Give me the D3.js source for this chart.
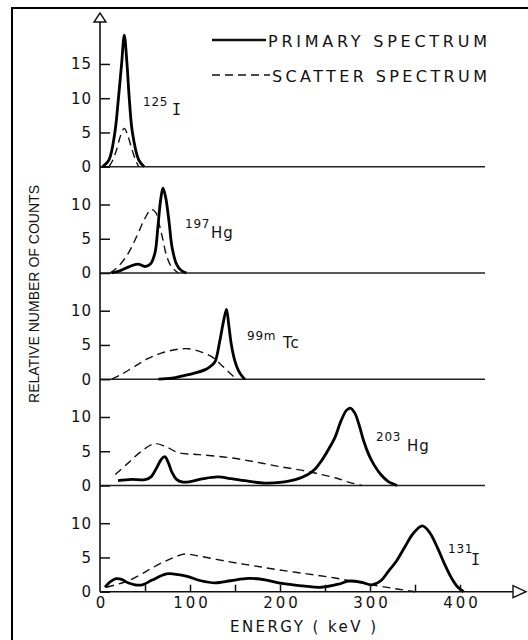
<!DOCTYPE html>
<html>
<head>
<meta charset="utf-8">
<script src="https://cdn.jsdelivr.net/npm/d3@7"></script>
<style>
  html, body { margin: 0; padding: 0; background: #fff; }
  svg { display: block; }
  text { font-family: "DejaVu Sans", sans-serif; fill: #111; }
</style>
</head>
<body>
<script>
const width = 528;
const height = 640;

// energy axis (keV)
const energyLabels = [0, 100, 200, 300, 400];
const energyTicks = [50, 100, 150, 200, 250, 300, 350, 400];
// relative counts ticks per panel
const countTicksTop = [0, 5, 10, 15];
const countTicks = [0, 5, 10];

const isotopeSup = ['125', '197', '99m', '203', '131'];
const isotopeName = ['I', 'Hg', 'Tc', 'Hg', 'I'];

// [energy keV, relative counts]
const i125Primary = [[3, 0], [10, 1], [16.5, 5], [20.5, 10], [24, 15], [27, 19.2], [30, 15], [32.5, 10], [36, 5], [43, 1], [49, 0]];
const i125Scatter = [[10, 0], [14, 0.9], [18.5, 2.5], [23, 4.6], [27, 5.6], [31, 4.5], [35.5, 2.5], [40, 0.8], [43, 0]];

const hg197Primary = [[13, 0], [22, 0.3], [32, 0.9], [42, 1.3], [50, 0.95], [56, 1.3], [61, 2.9], [64.5, 7], [67.5, 10.8], [70, 12.4], [73, 11], [76.7, 7.5], [80, 3.8], [85, 1.3], [90, 0.4], [96, 0]];
const hg197Scatter = [[11, 0], [20, 0.9], [31.5, 2.9], [42, 5.7], [50, 8], [57, 9.3], [62, 8.8], [66, 7], [70, 4.8], [74, 2.5], [79, 1], [87, 0]];

const tc99mPrimary = [[65, 0], [80, 0.15], [92, 0.5], [105, 0.9], [117, 1.4], [124, 2], [128, 2.6], [133, 5.5], [137, 8.3], [140.5, 10.2], [143, 8], [146, 5], [150, 2.6], [154, 1.2], [158, 0.4], [161, 0]];
const tc99mScatter = [[13, 0], [25, 0.8], [39, 1.9], [53, 3], [68, 3.8], [83, 4.3], [98, 4.45], [112, 4], [124, 3.3], [133, 2.3], [142.6, 1.1], [152, 0]];

const hg203Primary = [[20, 0.7], [35, 0.9], [50, 0.85], [57, 1.3], [63, 2.6], [68, 3.8], [72, 4.2], [76, 3.3], [80, 1.9], [85, 0.9], [92, 0.5], [100, 0.55], [115, 1], [131, 1.25], [146, 1], [161, 0.7], [183, 0.35], [200, 0.45], [217, 0.85], [231, 1.6], [239, 2.4], [246, 3.6], [254, 5.3], [261, 7], [268, 9.5], [274, 11], [278, 11.3], [283, 10.6], [288, 8.8], [293, 6.5], [299, 4.4], [305, 2.9], [312, 1.6], [320, 0.6], [330, 0]];
const hg203Scatter = [[17, 1.6], [31.5, 3.3], [46, 5], [61, 6.1], [74, 5.6], [87, 4.8], [110, 4.5], [142, 4.1], [170, 3.5], [198, 2.8], [225, 2.2], [246, 1.6], [262, 1.1], [276, 0.5], [291, 0]];

const i131Primary = [[5.6, 0.65], [12, 1.5], [18, 1.9], [24, 1.8], [31, 1.3], [39, 1], [47, 1], [58, 1.7], [74, 2.6], [87, 2.5], [98, 2.2], [112, 1.6], [128, 1.3], [145, 1.6], [165, 1.95], [185, 1.7], [202, 1.2], [225, 0.85], [246, 0.65], [265, 1.1], [276, 1.55], [290, 1.4], [302, 1], [312, 1.6], [320, 2.9], [330, 4.6], [339, 6.6], [348, 8.5], [358, 9.6], [366, 8.7], [375, 6.4], [383, 4], [391, 1.9], [398, 0.6], [404, 0]];
const i131Scatter = [[7, 0.65], [20, 1.1], [31.5, 1.6], [45, 2.5], [57, 3.4], [70, 4.3], [82, 5], [94, 5.5], [110, 5.2], [142, 4.4], [170, 3.8], [198, 3.2], [230, 2.6], [261, 2], [285, 1.4], [309, 0.85], [330, 0.4], [350, 0]];

const panels = [
  { primary: i125Primary, scatter: i125Scatter, ticks: countTicksTop },
  { primary: hg197Primary, scatter: hg197Scatter, ticks: countTicks },
  { primary: tc99mPrimary, scatter: tc99mScatter, ticks: countTicks },
  { primary: hg203Primary, scatter: hg203Scatter, ticks: countTicks },
  { primary: i131Primary, scatter: i131Scatter, ticks: countTicks },
];

// layout
const axisX = 100;
const topY = 22;
const bases = [166.7, 273, 379.2, 485.5, 591.7];
const unit = 6.85;
const labelPos = [
  { sx: 143, sy: -61, mx: 172, my: -52 },
  { sx: 185, sy: -45, mx: 211, my: -35 },
  { sx: 247, sy: -39, mx: 283, my: -31 },
  { sx: 376, sy: -45, mx: 407, my: -35 },
  { sx: 448, sy: -39, mx: 471, my: -27 },
];

const x = d3.scaleLinear()
  .domain([0, 400])
  .range([axisX, 460]);

const svg = d3.select('body')
  .append('svg')
    .attr('width', width)
    .attr('height', height)
    .attr('viewBox', [0, 0, width, height].join(' '));

svg.append('rect')
  .attr('width', width)
  .attr('height', height)
  .attr('fill', '#fff');

// frame (top and left edges visible)
svg.append('path')
  .attr('d', `M12,${height} L12,8 L${width},8`)
  .attr('fill', 'none')
  .attr('stroke', '#000')
  .attr('stroke-width', 2);

panels.forEach((p, i) => {
  const base = bases[i];
  const y = d3.scaleLinear()
    .domain([0, 10])
    .range([base, base - unit * 10]);

  const g = svg.append('g');

  // baseline
  if (i < panels.length - 1) {
    g.append('line')
      .attr('x1', axisX)
      .attr('x2', 485)
      .attr('y1', base)
      .attr('y2', base)
      .attr('stroke', '#222')
      .attr('stroke-width', 1.5);
  }

  const yAxis = d3.axisLeft(y)
    .tickValues(p.ticks)
    .tickSizeInner(-10)
    .tickSizeOuter(0)
    .tickPadding(8);

  const ya = g.append('g')
    .attr('transform', `translate(${axisX},0)`)
    .call(yAxis);
  ya.select('.domain').remove();
  ya.selectAll('line').attr('stroke', '#111').attr('stroke-width', 1.5);
  ya.selectAll('text')
    .attr('font-size', 15)
    .attr('letter-spacing', 1)
    .attr('fill', '#111');

  const line = d3.line()
    .x((d) => x(d[0]))
    .y((d) => y(d[1]))
    .curve(d3.curveCatmullRom.alpha(0.5));

  g.append('path')
    .datum(p.scatter)
    .attr('d', line)
    .attr('fill', 'none')
    .attr('stroke', '#111')
    .attr('stroke-width', 1.4)
    .attr('stroke-dasharray', '8,5');

  g.append('path')
    .datum(p.primary)
    .attr('d', line)
    .attr('fill', 'none')
    .attr('stroke', '#000')
    .attr('stroke-width', 2.8)
    .attr('stroke-linejoin', 'round');

  const lp = labelPos[i];
  g.append('text')
    .attr('x', lp.sx)
    .attr('y', base + lp.sy)
    .attr('font-size', 12)
    .attr('letter-spacing', 0.8)
    .text(isotopeSup[i]);

  g.append('text')
    .attr('x', lp.mx)
    .attr('y', base + lp.my)
    .attr('font-size', 15)
    .attr('letter-spacing', 1)
    .style('font-family', isotopeName[i] === 'I' ? '"DejaVu Sans Mono", monospace' : null)
    .text(isotopeName[i]);
});

// y axis line and arrow
svg.append('line')
  .attr('x1', axisX)
  .attr('x2', axisX)
  .attr('y1', topY)
  .attr('y2', bases[4])
  .attr('stroke', '#111')
  .attr('stroke-width', 1.6);

svg.append('path')
  .attr('d', `M${axisX},13 L${axisX - 6},${topY} L${axisX + 6},${topY} Z`)
  .attr('fill', '#fff')
  .attr('stroke', '#111')
  .attr('stroke-width', 1.4);

// x axis line and arrow
svg.append('line')
  .attr('x1', axisX)
  .attr('x2', 513)
  .attr('y1', bases[4])
  .attr('y2', bases[4])
  .attr('stroke', '#111')
  .attr('stroke-width', 1.6);

svg.append('path')
  .attr('d', `M513,${bases[4] - 6} L526,${bases[4]} L513,${bases[4] + 6} Z`)
  .attr('fill', '#fff')
  .attr('stroke', '#111')
  .attr('stroke-width', 1.4);

const xTicks = d3.axisBottom(x)
  .tickValues(energyTicks)
  .tickSizeInner(-7)
  .tickSizeOuter(0)
  .tickFormat('');

const xt = svg.append('g')
  .attr('transform', `translate(0,${bases[4]})`)
  .call(xTicks);
xt.select('.domain').remove();
xt.selectAll('line').attr('stroke', '#111').attr('stroke-width', 1.5);

const xLabels = d3.axisBottom(x)
  .tickValues(energyLabels)
  .tickSize(0)
  .tickPadding(6);

const xl = svg.append('g')
  .attr('transform', `translate(0,${bases[4]})`)
  .call(xLabels);
xl.select('.domain').remove();
xl.selectAll('text')
  .attr('font-size', 15)
  .attr('letter-spacing', 3)
  .attr('dx', 1.5)
  .attr('fill', '#111');

// axis titles
svg.append('text')
  .attr('x', 230)
  .attr('y', 632)
  .attr('font-size', 15)
  .attr('textLength', 146)
  .attr('lengthAdjust', 'spacing')
  .text('ENERGY ( keV )');

svg.append('text')
  .attr('transform', 'translate(39,403) rotate(-90)')
  .attr('font-size', 14)
  .style('font-family', '"Liberation Sans Narrow", "Liberation Sans", sans-serif')
  .attr('textLength', 218)
  .attr('lengthAdjust', 'spacingAndGlyphs')
  .text('RELATIVE NUMBER OF COUNTS');

// legend
const legend = [
  { label: 'PRIMARY SPECTRUM', y: 40, dash: null, w: 2.6, tx: 268 },
  { label: 'SCATTER SPECTRUM', y: 75, dash: '8,5', w: 1.4, tx: 272 },
];

legend.forEach((d) => {
  svg.append('line')
    .attr('x1', 212)
    .attr('x2', d.tx - 2)
    .attr('y1', d.y)
    .attr('y2', d.y)
    .attr('stroke', '#111')
    .attr('stroke-width', d.w)
    .attr('stroke-dasharray', d.dash);

  svg.append('text')
    .attr('x', d.tx)
    .attr('y', d.y + 6.5)
    .attr('font-size', 16)
    .attr('textLength', 487 - d.tx)
    .attr('lengthAdjust', 'spacing')
    .text(d.label);
});
</script>
</body>
</html>
